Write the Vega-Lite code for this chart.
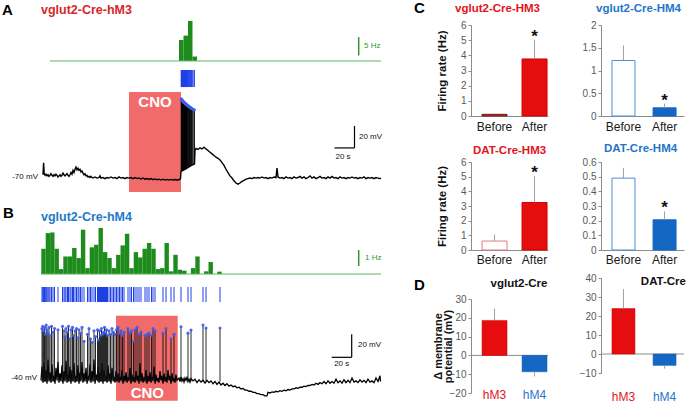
{
  "$schema": "https://vega.github.io/schema/vega-lite/v6.json",
  "padding": 0,
  "background": "white",
  "config": {
    "view": {"stroke": null},
    "font": "Liberation Sans",
    "title": {"frame": "group"},
    "axis": {"grid": false, "labelOverlap": false, "labelFontSize": 10, "labelColor": "#595959", "domainColor": "#8c8c8c", "tickColor": "#8c8c8c", "tickSize": 3, "titleFontSize": 11.5, "titleFontWeight": "bold", "titleColor": "#111111"},
    "axisY": {"labelPadding": 2, "titlePadding": 13},
    "axisX": {"ticks": false, "tickSize": 0, "labelAngle": 0, "labelBaseline": "middle", "labelFontSize": 12, "labelColor": "#1a1a1a"}
  },
  "datasets": {
    "traceA": [{"t":0,"v":-68},{"t":0.6,"v":-57},{"t":1.2,"v":-67},{"t":2,"v":-68.5},{"t":3,"v":-67.5},{"t":4,"v":-69},{"t":5,"v":-68},{"t":6,"v":-69.5},{"t":7,"v":-68.5},{"t":8,"v":-67},{"t":9,"v":-68.5},{"t":10,"v":-69.5},{"t":11,"v":-68},{"t":12,"v":-69},{"t":13,"v":-67.5},{"t":14,"v":-68.5},{"t":15,"v":-70},{"t":16,"v":-69},{"t":17,"v":-68},{"t":18,"v":-69.5},{"t":19,"v":-68.5},{"t":20,"v":-66.5},{"t":21,"v":-68},{"t":22,"v":-69},{"t":23,"v":-68},{"t":24,"v":-67},{"t":25,"v":-68.5},{"t":26,"v":-69.5},{"t":27,"v":-68},{"t":28,"v":-66},{"t":29,"v":-67.5},{"t":30,"v":-64},{"t":31,"v":-66},{"t":32,"v":-63},{"t":33,"v":-61},{"t":34,"v":-63.5},{"t":35,"v":-62},{"t":36,"v":-64},{"t":37,"v":-63},{"t":38,"v":-65.5},{"t":39,"v":-64.5},{"t":40,"v":-66.5},{"t":41,"v":-68},{"t":42,"v":-67},{"t":43,"v":-69},{"t":44,"v":-68.5},{"t":45,"v":-70},{"t":46,"v":-69.5},{"t":47,"v":-70.5},{"t":48,"v":-69.5},{"t":49,"v":-70.5},{"t":50,"v":-71},{"t":52,"v":-70},{"t":54,"v":-71},{"t":56,"v":-70.5},{"t":57,"v":-69},{"t":58,"v":-71},{"t":60,"v":-70.5},{"t":62,"v":-71.5},{"t":64,"v":-70.5},{"t":66,"v":-71},{"t":68,"v":-70},{"t":70,"v":-71},{"t":72,"v":-70.5},{"t":74,"v":-71.5},{"t":76,"v":-70},{"t":78,"v":-71},{"t":80,"v":-70.5},{"t":82,"v":-71.5},{"t":84,"v":-70.5},{"t":86,"v":-71},{"t":88,"v":-70.5},{"t":90,"v":-71.5},{"t":92,"v":-70.5},{"t":94,"v":-71.5},{"t":96,"v":-71},{"t":98,"v":-71.8},{"t":100,"v":-71},{"t":102,"v":-72},{"t":104,"v":-71.5},{"t":106,"v":-72.3},{"t":108,"v":-71.5},{"t":110,"v":-72.5},{"t":112,"v":-71.8},{"t":114,"v":-72.5},{"t":116,"v":-72},{"t":118,"v":-72.8},{"t":120,"v":-72},{"t":122,"v":-72.8},{"t":124,"v":-72.2},{"t":126,"v":-72.8},{"t":128,"v":-72.2},{"t":130,"v":-72.8},{"t":132,"v":-72.3},{"t":134,"v":-72.8},{"t":136,"v":-72.5},{"t":137.5,"v":-71.5},{"t":138,"v":-65},{"t":140,"v":-64},{"t":142,"v":-63},{"t":144,"v":-62},{"t":146,"v":-60.8},{"t":148,"v":-59.8},{"t":150,"v":-58.8},{"t":151.5,"v":-58.2},{"t":152,"v":-46},{"t":153,"v":-44},{"t":155,"v":-45},{"t":157,"v":-43.5},{"t":159,"v":-44.5},{"t":161,"v":-43},{"t":163,"v":-44.5},{"t":165,"v":-46},{"t":167,"v":-47.5},{"t":169,"v":-49},{"t":171,"v":-50.5},{"t":173,"v":-52},{"t":175,"v":-53},{"t":177,"v":-54.5},{"t":179,"v":-57},{"t":181,"v":-59.5},{"t":183,"v":-63},{"t":185,"v":-66},{"t":187,"v":-69},{"t":189,"v":-71},{"t":191,"v":-73.5},{"t":193,"v":-75.5},{"t":195,"v":-76.5},{"t":197,"v":-75.5},{"t":199,"v":-74},{"t":201,"v":-73},{"t":203,"v":-72},{"t":205,"v":-71.5},{"t":207,"v":-71},{"t":209,"v":-71.5},{"t":211,"v":-70.5},{"t":213,"v":-71},{"t":215,"v":-70.5},{"t":217,"v":-71},{"t":219,"v":-70},{"t":221,"v":-71},{"t":223,"v":-70.5},{"t":225,"v":-71.5},{"t":227,"v":-70.5},{"t":229,"v":-71},{"t":231,"v":-70},{"t":233,"v":-70.5},{"t":234,"v":-62},{"t":235,"v":-70},{"t":237,"v":-71},{"t":239,"v":-70.5},{"t":241,"v":-71.5},{"t":243,"v":-70},{"t":245,"v":-71},{"t":247,"v":-70.5},{"t":249,"v":-71.5},{"t":251,"v":-70},{"t":253,"v":-71},{"t":255,"v":-70.5},{"t":257,"v":-69.5},{"t":259,"v":-71},{"t":261,"v":-70},{"t":263,"v":-71.5},{"t":265,"v":-70.5},{"t":267,"v":-69},{"t":269,"v":-71},{"t":271,"v":-70},{"t":273,"v":-71.5},{"t":275,"v":-70.5},{"t":277,"v":-69.5},{"t":279,"v":-71},{"t":281,"v":-70.5},{"t":283,"v":-71.5},{"t":285,"v":-70},{"t":287,"v":-71},{"t":289,"v":-69.5},{"t":291,"v":-71},{"t":293,"v":-70.5},{"t":295,"v":-71.5},{"t":297,"v":-70},{"t":299,"v":-71},{"t":301,"v":-70.5},{"t":303,"v":-71.5},{"t":305,"v":-70.5},{"t":307,"v":-71},{"t":309,"v":-70},{"t":311,"v":-71},{"t":313,"v":-70.5},{"t":315,"v":-71.5},{"t":317,"v":-70.5},{"t":319,"v":-71},{"t":321,"v":-70},{"t":323,"v":-71.5},{"t":325,"v":-70.5},{"t":327,"v":-71},{"t":329,"v":-70.5},{"t":331,"v":-71.5},{"t":333,"v":-70.5},{"t":335,"v":-71},{"t":337,"v":-71.5},{"t":338,"v":-71}],
    "spikesA": [{"t":138.2,"peak":1,"base":-65},{"t":138.6,"peak":0.4,"base":-64.8},{"t":139.0,"peak":0,"base":-64.6},{"t":139.4,"peak":-0.6,"base":-64.4},{"t":139.8,"peak":-1,"base":-64.2},{"t":140.2,"peak":-1.5,"base":-64},{"t":140.6,"peak":-1.8,"base":-63.8},{"t":141.0,"peak":-2.3,"base":-63.6},{"t":141.5,"peak":-2.6,"base":-63.3},{"t":142.0,"peak":-3,"base":-63},{"t":142.5,"peak":-3.5,"base":-62.8},{"t":143.0,"peak":-3.8,"base":-62.5},{"t":143.5,"peak":-4.3,"base":-62.2},{"t":144.0,"peak":-4.6,"base":-62},{"t":144.6,"peak":-5.1,"base":-61.6},{"t":145.2,"peak":-5.4,"base":-61.3},{"t":145.8,"peak":-5.9,"base":-61},{"t":146.4,"peak":-6.2,"base":-60.6},{"t":147.0,"peak":-6.7,"base":-60.3},{"t":147.7,"peak":-7,"base":-60},{"t":148.4,"peak":-7.5,"base":-59.6},{"t":149.2,"peak":-8,"base":-59.2},{"t":150.1,"peak":-8.4,"base":-58.8},{"t":151.4,"peak":-9,"base":-58.3}],
    "histA": [{"start":136,"end":140.5,"hz":5.7},{"start":140.5,"end":145,"hz":6.9},{"start":145,"end":149.5,"hz":10.9},{"start":149.5,"end":154,"hz":1.2}],
    "traceB": [{"t":0,"v":-42},{"t":1,"v":-30},{"t":2,"v":-44},{"t":3,"v":-27},{"t":4,"v":-43},{"t":5,"v":-33},{"t":6,"v":-45},{"t":7,"v":-24},{"t":8,"v":-42},{"t":9,"v":-35},{"t":10,"v":-44},{"t":11,"v":-28},{"t":12,"v":-43},{"t":13,"v":-38},{"t":14,"v":-45},{"t":15,"v":-31},{"t":16,"v":-42},{"t":17,"v":-26},{"t":18,"v":-44},{"t":19,"v":-36},{"t":20,"v":-43},{"t":21,"v":-29},{"t":22,"v":-45},{"t":23,"v":-34},{"t":24,"v":-42},{"t":25,"v":-25},{"t":26,"v":-44},{"t":27,"v":-37},{"t":28,"v":-43},{"t":29,"v":-30},{"t":30,"v":-45},{"t":31,"v":-33},{"t":32,"v":-42},{"t":33,"v":-27},{"t":34,"v":-44},{"t":35,"v":-38},{"t":36,"v":-43},{"t":37,"v":-29},{"t":38,"v":-45},{"t":39,"v":-35},{"t":40,"v":-42},{"t":41,"v":-26},{"t":42,"v":-44},{"t":43,"v":-36},{"t":44,"v":-43},{"t":45,"v":-31},{"t":46,"v":-45},{"t":47,"v":-38},{"t":48,"v":-42},{"t":49,"v":-28},{"t":50,"v":-44},{"t":51,"v":-34},{"t":52,"v":-43},{"t":53,"v":-24},{"t":54,"v":-45},{"t":55,"v":-37},{"t":56,"v":-42},{"t":57,"v":-30},{"t":58,"v":-44},{"t":59,"v":-35},{"t":60,"v":-43},{"t":61,"v":-27},{"t":62,"v":-45},{"t":63,"v":-33},{"t":64,"v":-42},{"t":65,"v":-38},{"t":66,"v":-44},{"t":67,"v":-29},{"t":68,"v":-43},{"t":69,"v":-36},{"t":70,"v":-45},{"t":71,"v":-31},{"t":72,"v":-42},{"t":73,"v":-39},{"t":74,"v":-44},{"t":75,"v":-34},{"t":76,"v":-43},{"t":77,"v":-36},{"t":78,"v":-44},{"t":79,"v":-39},{"t":80,"v":-42},{"t":81,"v":-33},{"t":82,"v":-45},{"t":83,"v":-38},{"t":84,"v":-43},{"t":85,"v":-35},{"t":86,"v":-44},{"t":87,"v":-40},{"t":88,"v":-42},{"t":89,"v":-31},{"t":90,"v":-45},{"t":91,"v":-37},{"t":92,"v":-43},{"t":93,"v":-39},{"t":94,"v":-44},{"t":95,"v":-34},{"t":96,"v":-42},{"t":97,"v":-38},{"t":98,"v":-45},{"t":99,"v":-27},{"t":100,"v":-43},{"t":101,"v":-36},{"t":102,"v":-44},{"t":103,"v":-40},{"t":104,"v":-42},{"t":105,"v":-33},{"t":106,"v":-45},{"t":107,"v":-38},{"t":108,"v":-43},{"t":109,"v":-35},{"t":110,"v":-44},{"t":111,"v":-39},{"t":112,"v":-42},{"t":113,"v":-30},{"t":114,"v":-45},{"t":115,"v":-37},{"t":116,"v":-43},{"t":117,"v":-40},{"t":118,"v":-44},{"t":119,"v":-34},{"t":120,"v":-42},{"t":121,"v":-38},{"t":122,"v":-45},{"t":123,"v":-36},{"t":124,"v":-43},{"t":125,"v":-39},{"t":126,"v":-44},{"t":127,"v":-33},{"t":128,"v":-42},{"t":129,"v":-38},{"t":130,"v":-45},{"t":131,"v":-36},{"t":132,"v":-43},{"t":133,"v":-40},{"t":134,"v":-44},{"t":135,"v":-37},{"t":136,"v":-42},{"t":138,"v":-40},{"t":139,"v":-43},{"t":140,"v":-39},{"t":141,"v":-42.5},{"t":142,"v":-40.5},{"t":143,"v":-43.5},{"t":144,"v":-40},{"t":145,"v":-42},{"t":146,"v":-39.5},{"t":147,"v":-43},{"t":148,"v":-41},{"t":149,"v":-43.5},{"t":150,"v":-40.5},{"t":152,"v":-42.5},{"t":154,"v":-41},{"t":156,"v":-44},{"t":158,"v":-41.5},{"t":160,"v":-43.5},{"t":162,"v":-42},{"t":164,"v":-44.5},{"t":166,"v":-42},{"t":168,"v":-44},{"t":170,"v":-42.5},{"t":172,"v":-45},{"t":174,"v":-43},{"t":176,"v":-45.5},{"t":178,"v":-43.5},{"t":180,"v":-46},{"t":182,"v":-44.5},{"t":184,"v":-46.5},{"t":186,"v":-45},{"t":188,"v":-47},{"t":190,"v":-46},{"t":192,"v":-47.5},{"t":194,"v":-47},{"t":196,"v":-48.5},{"t":198,"v":-48},{"t":200,"v":-49.5},{"t":202,"v":-49},{"t":204,"v":-50.5},{"t":206,"v":-50.5},{"t":208,"v":-51.5},{"t":210,"v":-51.5},{"t":212,"v":-52.5},{"t":214,"v":-52.5},{"t":216,"v":-53.5},{"t":218,"v":-53.5},{"t":220,"v":-54.5},{"t":222,"v":-54.5},{"t":224,"v":-55.5},{"t":226,"v":-55.5},{"t":227,"v":-52.5},{"t":229,"v":-53},{"t":231,"v":-52},{"t":233,"v":-52.5},{"t":235,"v":-51.5},{"t":237,"v":-52},{"t":239,"v":-51},{"t":241,"v":-51.5},{"t":243,"v":-50.5},{"t":245,"v":-51},{"t":247,"v":-50},{"t":249,"v":-50.5},{"t":251,"v":-49.5},{"t":253,"v":-49.5},{"t":255,"v":-48.5},{"t":257,"v":-49},{"t":259,"v":-48},{"t":261,"v":-48},{"t":263,"v":-47},{"t":265,"v":-47.5},{"t":267,"v":-46.5},{"t":269,"v":-46.5},{"t":271,"v":-45.5},{"t":273,"v":-46},{"t":275,"v":-44.5},{"t":277,"v":-45.5},{"t":279,"v":-44},{"t":281,"v":-45},{"t":283,"v":-43},{"t":285,"v":-45},{"t":287,"v":-42.5},{"t":289,"v":-44.5},{"t":291,"v":-43},{"t":293,"v":-44.5},{"t":295,"v":-41},{"t":297,"v":-44},{"t":299,"v":-42.5},{"t":301,"v":-44.5},{"t":303,"v":-41.5},{"t":305,"v":-44},{"t":307,"v":-42},{"t":309,"v":-44},{"t":311,"v":-40},{"t":313,"v":-43.5},{"t":315,"v":-42.5},{"t":317,"v":-44},{"t":319,"v":-41.5},{"t":321,"v":-43.5},{"t":323,"v":-42},{"t":325,"v":-44},{"t":327,"v":-41},{"t":329,"v":-43.5},{"t":331,"v":-42.5},{"t":333,"v":-44},{"t":335,"v":-40},{"t":337,"v":-43},{"t":339,"v":-38},{"t":339.5,"v":-43}],
    "spikesB": [{"t":1,"peak":3},{"t":1.8,"peak":5},{"t":2.6,"peak":1},{"t":3.5,"peak":4},{"t":4.3,"peak":-2},{"t":5.2,"peak":6},{"t":6,"peak":2},{"t":7,"peak":-1},{"t":8,"peak":4},{"t":9,"peak":-3},{"t":10.5,"peak":5},{"t":12,"peak":0},{"t":13.5,"peak":3},{"t":17,"peak":2},{"t":21.5,"peak":5},{"t":23,"peak":1},{"t":24,"peak":-4},{"t":25,"peak":3},{"t":26.5,"peak":0},{"t":27.5,"peak":5},{"t":29,"peak":-6},{"t":30,"peak":2},{"t":31.5,"peak":4},{"t":32.5,"peak":-3},{"t":34,"peak":1},{"t":35.5,"peak":3},{"t":37,"peak":-5},{"t":38,"peak":2},{"t":39.5,"peak":-1},{"t":41,"peak":4},{"t":43,"peak":-8},{"t":46.5,"peak":-2},{"t":48,"peak":3},{"t":49.5,"peak":-6},{"t":51,"peak":-9},{"t":53,"peak":1},{"t":54.5,"peak":-4},{"t":56.5,"peak":2},{"t":57.5,"peak":-7},{"t":58.5,"peak":1},{"t":59.5,"peak":-3},{"t":60.5,"peak":3},{"t":61.5,"peak":-2},{"t":62.5,"peak":0},{"t":63.5,"peak":4},{"t":64.5,"peak":-1},{"t":65.5,"peak":2},{"t":66.5,"peak":-3},{"t":68,"peak":1},{"t":69.5,"peak":-2},{"t":71,"peak":3},{"t":72.5,"peak":0},{"t":74,"peak":-2},{"t":75.5,"peak":2},{"t":77,"peak":4},{"t":78.5,"peak":-1},{"t":80,"peak":1},{"t":81.5,"peak":-3},{"t":83,"peak":0},{"t":87,"peak":3},{"t":89,"peak":-1},{"t":90.5,"peak":1},{"t":92.5,"peak":-8},{"t":94,"peak":2},{"t":96,"peak":4},{"t":98,"peak":-2},{"t":100,"peak":0},{"t":104,"peak":-3},{"t":106,"peak":-2},{"t":108,"peak":-1},{"t":110.5,"peak":-3},{"t":112,"peak":3},{"t":114,"peak":1},{"t":122,"peak":-1},{"t":125,"peak":3},{"t":130,"peak":-6},{"t":133,"peak":-2},{"t":140,"peak":4.6},{"t":147,"peak":-1},{"t":150,"peak":1.7},{"t":162,"peak":6},{"t":165,"peak":3.5},{"t":179,"peak":3.5}],
    "histB": [{"start":0.3,"end":4.7,"hz":1.58},{"start":4.7,"end":9.1,"hz":2.56},{"start":9.1,"end":13.5,"hz":2.6},{"start":13.5,"end":17.9,"hz":1.58},{"start":17.9,"end":22.3,"hz":0.31},{"start":22.3,"end":26.7,"hz":1.1},{"start":26.7,"end":31.1,"hz":1.1},{"start":31.1,"end":35.5,"hz":1.63},{"start":35.5,"end":39.9,"hz":1.0},{"start":39.9,"end":44.3,"hz":2.77},{"start":44.3,"end":48.7,"hz":0.37},{"start":48.7,"end":53.1,"hz":1.67},{"start":53.1,"end":57.5,"hz":1.83},{"start":57.5,"end":61.9,"hz":2.88},{"start":61.9,"end":66.3,"hz":1.37},{"start":66.3,"end":70.7,"hz":1.0},{"start":70.7,"end":75.1,"hz":0.37},{"start":75.1,"end":79.5,"hz":1.2},{"start":79.5,"end":83.9,"hz":1.79},{"start":83.9,"end":88.3,"hz":2.52},{"start":88.3,"end":92.7,"hz":0.37},{"start":92.7,"end":97.1,"hz":1.37},{"start":97.1,"end":101.5,"hz":1.04},{"start":101.5,"end":105.9,"hz":1.58},{"start":105.9,"end":110.3,"hz":1.94},{"start":110.3,"end":114.7,"hz":1.58},{"start":114.7,"end":119.1,"hz":0.31},{"start":119.1,"end":123.5,"hz":0.37},{"start":123.5,"end":127.9,"hz":1.94},{"start":127.9,"end":132.3,"hz":0.17},{"start":132.3,"end":136.7,"hz":1.2},{"start":136.7,"end":141.1,"hz":0.27},{"start":141.1,"end":145.5,"hz":0.21},{"start":149.9,"end":154.3,"hz":0.37},{"start":154.3,"end":158.7,"hz":1.1},{"start":163.1,"end":167.5,"hz":0.17},{"start":167.5,"end":171.9,"hz":0.75},{"start":176.3,"end":180.7,"hz":0.15}]
  },
  "hconcat": [
    {
      "vconcat": [
        {
          "width": 432, "height": 195,
          "resolve": {"scale": {"y": "independent"}},
          "layer": [
            {"data": {"values": [{"start": 86, "end": 138}]}, "mark": {"type": "rect", "color": "#f26b6b"},
             "encoding": {"x": {"field": "start", "type": "quantitative", "scale": {"domain": [-43, 389], "nice": false, "zero": false}, "axis": null}, "x2": {"field": "end"},
                          "y": {"datum": -83.6, "type": "quantitative", "scale": {"domain": [-86.4, 90.9], "nice": false, "zero": false}, "axis": null}, "y2": {"datum": 7.3}}},
            {"data": {"name": "histA"}, "mark": {"type": "rect", "color": "#1d8c1d"},
             "encoding": {"x": {"field": "start", "type": "quantitative", "scale": {"domain": [-43, 389], "nice": false, "zero": false}, "axis": null}, "x2": {"field": "end"},
                          "y": {"field": "hz", "type": "quantitative", "scale": {"domain": [-36.5, 16.6], "nice": false, "zero": false}, "axis": null}, "y2": {"datum": 0}}},
            {"data": {"values": [{}]}, "mark": {"type": "rule", "color": "#5cb85c", "strokeWidth": 1},
             "encoding": {"x": {"datum": 7, "type": "quantitative", "scale": {"domain": [-43, 389], "nice": false, "zero": false}, "axis": null}, "x2": {"datum": 338},
                          "y": {"datum": 0, "type": "quantitative", "scale": {"domain": [-36.5, 16.6], "nice": false, "zero": false}, "axis": null}}},
            {"data": {"values": [{}]}, "mark": {"type": "rule", "color": "#2e9a2e", "strokeWidth": 1.5},
             "encoding": {"x": {"datum": 315.7, "type": "quantitative", "scale": {"domain": [-43, 389], "nice": false, "zero": false}, "axis": null},
                          "y": {"datum": 1.5, "type": "quantitative", "scale": {"domain": [-36.5, 16.6], "nice": false, "zero": false}, "axis": null}, "y2": {"datum": 6.5}}},
            {"data": {"values": [{}]}, "mark": {"type": "text", "color": "#2e9a2e", "fontSize": 8, "align": "left", "baseline": "middle"},
             "encoding": {"x": {"datum": 321, "type": "quantitative", "scale": {"domain": [-43, 389], "nice": false, "zero": false}, "axis": null},
                          "y": {"datum": 4.1, "type": "quantitative", "scale": {"domain": [-36.5, 16.6], "nice": false, "zero": false}, "axis": null}, "text": {"value": "5 Hz"}}},
            {"data": {"name": "spikesA"}, "mark": {"type": "rule", "color": "#1f3fe6", "strokeWidth": 1},
             "encoding": {"x": {"field": "t", "type": "quantitative", "scale": {"domain": [-43, 389], "nice": false, "zero": false}, "axis": null},
                          "y": {"datum": 0, "type": "quantitative", "scale": {"domain": [-6.35, 5.12], "nice": false, "zero": false}, "axis": null}, "y2": {"datum": 1}}},
            {"data": {"name": "traceA"}, "mark": {"type": "line", "color": "#000000", "strokeWidth": 1.4},
             "encoding": {"x": {"field": "t", "type": "quantitative", "scale": {"domain": [-43, 389], "nice": false, "zero": false}, "axis": null},
                          "y": {"field": "v", "type": "quantitative", "scale": {"domain": [-86.4, 90.9], "nice": false, "zero": false}, "axis": null}}},
            {"data": {"name": "spikesA"}, "mark": {"type": "rule", "color": "#000000", "strokeWidth": 1},
             "encoding": {"x": {"field": "t", "type": "quantitative", "scale": {"domain": [-43, 389], "nice": false, "zero": false}, "axis": null},
                          "y": {"field": "base", "type": "quantitative", "scale": {"domain": [-86.4, 90.9], "nice": false, "zero": false}, "axis": null}, "y2": {"field": "peak"}}},
            {"data": {"name": "spikesA"}, "mark": {"type": "point", "filled": true, "color": "#3d5cf0", "size": 10, "opacity": 0.9},
             "encoding": {"x": {"field": "t", "type": "quantitative", "scale": {"domain": [-43, 389], "nice": false, "zero": false}, "axis": null},
                          "y": {"field": "peak", "type": "quantitative", "scale": {"domain": [-86.4, 90.9], "nice": false, "zero": false}, "axis": null}}},
            {"data": {"values": [{}]}, "mark": {"type": "text", "color": "white", "fontSize": 15, "fontWeight": "bold", "align": "center", "baseline": "middle"},
             "encoding": {"x": {"datum": 112, "type": "quantitative", "scale": {"domain": [-43, 389], "nice": false, "zero": false}, "axis": null},
                          "y": {"datum": -1.8, "type": "quantitative", "scale": {"domain": [-86.4, 90.9], "nice": false, "zero": false}, "axis": null}, "text": {"value": "CNO"}}},
            {"data": {"values": [{}]}, "mark": {"type": "rule", "color": "#000000", "strokeWidth": 1.2},
             "encoding": {"x": {"datum": 311.5, "type": "quantitative", "scale": {"domain": [-43, 389], "nice": false, "zero": false}, "axis": null},
                          "y": {"datum": -43.6, "type": "quantitative", "scale": {"domain": [-86.4, 90.9], "nice": false, "zero": false}, "axis": null}, "y2": {"datum": -23.6}}},
            {"data": {"values": [{}]}, "mark": {"type": "rule", "color": "#000000", "strokeWidth": 1.2},
             "encoding": {"x": {"datum": 291.5, "type": "quantitative", "scale": {"domain": [-43, 389], "nice": false, "zero": false}, "axis": null}, "x2": {"datum": 311.5},
                          "y": {"datum": -43.6, "type": "quantitative", "scale": {"domain": [-86.4, 90.9], "nice": false, "zero": false}, "axis": null}}},
            {"data": {"values": [{}]}, "mark": {"type": "text", "color": "#111111", "fontSize": 8, "align": "left", "baseline": "middle"},
             "encoding": {"x": {"datum": 316, "type": "quantitative", "scale": {"domain": [-43, 389], "nice": false, "zero": false}, "axis": null},
                          "y": {"datum": -33.6, "type": "quantitative", "scale": {"domain": [-86.4, 90.9], "nice": false, "zero": false}, "axis": null}, "text": {"value": "20 mV"}}},
            {"data": {"values": [{}]}, "mark": {"type": "text", "color": "#111111", "fontSize": 8, "align": "center", "baseline": "middle"},
             "encoding": {"x": {"datum": 300, "type": "quantitative", "scale": {"domain": [-43, 389], "nice": false, "zero": false}, "axis": null},
                          "y": {"datum": -51.8, "type": "quantitative", "scale": {"domain": [-86.4, 90.9], "nice": false, "zero": false}, "axis": null}, "text": {"value": "20 s"}}},
            {"data": {"values": [{}]}, "mark": {"type": "text", "color": "#111111", "fontSize": 8, "align": "right", "baseline": "middle"},
             "encoding": {"x": {"datum": -5, "type": "quantitative", "scale": {"domain": [-43, 389], "nice": false, "zero": false}, "axis": null},
                          "y": {"datum": -70, "type": "quantitative", "scale": {"domain": [-86.4, 90.9], "nice": false, "zero": false}, "axis": null}, "text": {"value": "-70 mV"}}},
            {"data": {"values": [{}]}, "mark": {"type": "text", "color": "#000000", "fontSize": 15, "fontWeight": "bold", "align": "left", "baseline": "middle"},
             "encoding": {"x": {"datum": -41, "type": "quantitative", "scale": {"domain": [-43, 389], "nice": false, "zero": false}, "axis": null},
                          "y": {"datum": 81.8, "type": "quantitative", "scale": {"domain": [-86.4, 90.9], "nice": false, "zero": false}, "axis": null}, "text": {"value": "A"}}},
            {"data": {"values": [{}]}, "mark": {"type": "text", "color": "#d6262b", "fontSize": 12.5, "fontWeight": "bold", "align": "left", "baseline": "middle"},
             "encoding": {"x": {"datum": -2, "type": "quantitative", "scale": {"domain": [-43, 389], "nice": false, "zero": false}, "axis": null},
                          "y": {"datum": 81.8, "type": "quantitative", "scale": {"domain": [-86.4, 90.9], "nice": false, "zero": false}, "axis": null}, "text": {"value": "vglut2-Cre-hM3"}}},
            {"data": {"values": [{}]}, "mark": {"type": "text", "color": "#000000", "fontSize": 15, "fontWeight": "bold", "align": "left", "baseline": "middle"},
             "encoding": {"x": {"datum": 371, "type": "quantitative", "scale": {"domain": [-43, 389], "nice": false, "zero": false}, "axis": null},
                          "y": {"datum": 83.6, "type": "quantitative", "scale": {"domain": [-86.4, 90.9], "nice": false, "zero": false}, "axis": null}, "text": {"value": "C"}}}
          ]
        },
        {
          "width": 432, "height": 208,
          "resolve": {"scale": {"y": "independent"}},
          "layer": [
            {"data": {"values": [{"start": 75, "end": 136.7}]}, "mark": {"type": "rect", "color": "#f26b6b"},
             "encoding": {"x": {"field": "start", "type": "quantitative", "scale": {"domain": [-41, 391], "nice": false, "zero": false}, "axis": null}, "x2": {"field": "end"},
                          "y": {"datum": -59.7, "type": "quantitative", "scale": {"domain": [-61.7, 119.1], "nice": false, "zero": false}, "axis": null}, "y2": {"datum": 14.2}}},
            {"data": {"name": "histB"}, "mark": {"type": "rect", "color": "#1d8c1d"},
             "encoding": {"x": {"field": "start", "type": "quantitative", "scale": {"domain": [-41, 391], "nice": false, "zero": false}, "axis": null}, "x2": {"field": "end"},
                          "y": {"field": "hz", "type": "quantitative", "scale": {"domain": [-8.06, 4.94], "nice": false, "zero": false}, "axis": null}, "y2": {"datum": 0}}},
            {"data": {"values": [{}]}, "mark": {"type": "rule", "color": "#5cb85c", "strokeWidth": 1},
             "encoding": {"x": {"datum": 0, "type": "quantitative", "scale": {"domain": [-41, 391], "nice": false, "zero": false}, "axis": null}, "x2": {"datum": 340},
                          "y": {"datum": 0, "type": "quantitative", "scale": {"domain": [-8.06, 4.94], "nice": false, "zero": false}, "axis": null}}},
            {"data": {"values": [{}]}, "mark": {"type": "rule", "color": "#2e9a2e", "strokeWidth": 1.5},
             "encoding": {"x": {"datum": 317.7, "type": "quantitative", "scale": {"domain": [-41, 391], "nice": false, "zero": false}, "axis": null},
                          "y": {"datum": 0.5, "type": "quantitative", "scale": {"domain": [-8.06, 4.94], "nice": false, "zero": false}, "axis": null}, "y2": {"datum": 1.5}}},
            {"data": {"values": [{}]}, "mark": {"type": "text", "color": "#2e9a2e", "fontSize": 8, "align": "left", "baseline": "middle"},
             "encoding": {"x": {"datum": 324, "type": "quantitative", "scale": {"domain": [-41, 391], "nice": false, "zero": false}, "axis": null},
                          "y": {"datum": 1.0, "type": "quantitative", "scale": {"domain": [-8.06, 4.94], "nice": false, "zero": false}, "axis": null}, "text": {"value": "1 Hz"}}},
            {"data": {"name": "spikesB"}, "mark": {"type": "rule", "color": "#1f3fe6", "strokeWidth": 1},
             "encoding": {"x": {"field": "t", "type": "quantitative", "scale": {"domain": [-41, 391], "nice": false, "zero": false}, "axis": null},
                          "y": {"datum": 0, "type": "quantitative", "scale": {"domain": [-6.73, 7.13], "nice": false, "zero": false}, "axis": null}, "y2": {"datum": 1}}},
            {"data": {"name": "traceB"}, "mark": {"type": "line", "color": "#000000", "strokeWidth": 1.3},
             "encoding": {"x": {"field": "t", "type": "quantitative", "scale": {"domain": [-41, 391], "nice": false, "zero": false}, "axis": null},
                          "y": {"field": "v", "type": "quantitative", "scale": {"domain": [-61.7, 119.1], "nice": false, "zero": false}, "axis": null}}},
            {"data": {"name": "spikesB"}, "mark": {"type": "rule", "color": "#111111", "strokeWidth": 0.9},
             "encoding": {"x": {"field": "t", "type": "quantitative", "scale": {"domain": [-41, 391], "nice": false, "zero": false}, "axis": null},
                          "y": {"field": "peak", "type": "quantitative", "scale": {"domain": [-61.7, 119.1], "nice": false, "zero": false}, "axis": null}, "y2": {"datum": -43}}},
            {"data": {"name": "spikesB"}, "mark": {"type": "point", "filled": true, "color": "#3d5cf0", "size": 10, "opacity": 0.9},
             "encoding": {"x": {"field": "t", "type": "quantitative", "scale": {"domain": [-41, 391], "nice": false, "zero": false}, "axis": null},
                          "y": {"field": "peak", "type": "quantitative", "scale": {"domain": [-61.7, 119.1], "nice": false, "zero": false}, "axis": null}}},
            {"data": {"values": [{}]}, "mark": {"type": "text", "color": "white", "fontSize": 15, "fontWeight": "bold", "align": "center", "baseline": "middle"},
             "encoding": {"x": {"datum": 106.3, "type": "quantitative", "scale": {"domain": [-41, 391], "nice": false, "zero": false}, "axis": null},
                          "y": {"datum": -53.3, "type": "quantitative", "scale": {"domain": [-61.7, 119.1], "nice": false, "zero": false}, "axis": null}, "text": {"value": "CNO"}}},
            {"data": {"values": [{}]}, "mark": {"type": "rule", "color": "#000000", "strokeWidth": 1.2},
             "encoding": {"x": {"datum": 310.7, "type": "quantitative", "scale": {"domain": [-41, 391], "nice": false, "zero": false}, "axis": null},
                          "y": {"datum": -22, "type": "quantitative", "scale": {"domain": [-61.7, 119.1], "nice": false, "zero": false}, "axis": null}, "y2": {"datum": -2}}},
            {"data": {"values": [{}]}, "mark": {"type": "rule", "color": "#000000", "strokeWidth": 1.2},
             "encoding": {"x": {"datum": 290.7, "type": "quantitative", "scale": {"domain": [-41, 391], "nice": false, "zero": false}, "axis": null}, "x2": {"datum": 310.7},
                          "y": {"datum": -22, "type": "quantitative", "scale": {"domain": [-61.7, 119.1], "nice": false, "zero": false}, "axis": null}}},
            {"data": {"values": [{}]}, "mark": {"type": "text", "color": "#111111", "fontSize": 8, "align": "left", "baseline": "middle"},
             "encoding": {"x": {"datum": 317, "type": "quantitative", "scale": {"domain": [-41, 391], "nice": false, "zero": false}, "axis": null},
                          "y": {"datum": -11.3, "type": "quantitative", "scale": {"domain": [-61.7, 119.1], "nice": false, "zero": false}, "axis": null}, "text": {"value": "20 mV"}}},
            {"data": {"values": [{}]}, "mark": {"type": "text", "color": "#111111", "fontSize": 8, "align": "center", "baseline": "middle"},
             "encoding": {"x": {"datum": 300.7, "type": "quantitative", "scale": {"domain": [-41, 391], "nice": false, "zero": false}, "axis": null},
                          "y": {"datum": -28.1, "type": "quantitative", "scale": {"domain": [-61.7, 119.1], "nice": false, "zero": false}, "axis": null}, "text": {"value": "20 s"}}},
            {"data": {"values": [{}]}, "mark": {"type": "text", "color": "#111111", "fontSize": 8, "align": "right", "baseline": "middle"},
             "encoding": {"x": {"datum": -4, "type": "quantitative", "scale": {"domain": [-41, 391], "nice": false, "zero": false}, "axis": null},
                          "y": {"datum": -40, "type": "quantitative", "scale": {"domain": [-61.7, 119.1], "nice": false, "zero": false}, "axis": null}, "text": {"value": "-40 mV"}}},
            {"data": {"values": [{}]}, "mark": {"type": "text", "color": "#000000", "fontSize": 15, "fontWeight": "bold", "align": "left", "baseline": "middle"},
             "encoding": {"x": {"datum": -38, "type": "quantitative", "scale": {"domain": [-41, 391], "nice": false, "zero": false}, "axis": null},
                          "y": {"datum": 103.5, "type": "quantitative", "scale": {"domain": [-61.7, 119.1], "nice": false, "zero": false}, "axis": null}, "text": {"value": "B"}}},
            {"data": {"values": [{}]}, "mark": {"type": "text", "color": "#1f7ac9", "fontSize": 12.5, "fontWeight": "bold", "align": "left", "baseline": "middle"},
             "encoding": {"x": {"datum": 0, "type": "quantitative", "scale": {"domain": [-41, 391], "nice": false, "zero": false}, "axis": null},
                          "y": {"datum": 99.6, "type": "quantitative", "scale": {"domain": [-61.7, 119.1], "nice": false, "zero": false}, "axis": null}, "text": {"value": "vglut2-Cre-hM4"}}},
            {"data": {"values": [{}]}, "mark": {"type": "text", "color": "#000000", "fontSize": 15, "fontWeight": "bold", "align": "left", "baseline": "middle"},
             "encoding": {"x": {"datum": 373, "type": "quantitative", "scale": {"domain": [-41, 391], "nice": false, "zero": false}, "axis": null},
                          "y": {"datum": 41.3, "type": "quantitative", "scale": {"domain": [-61.7, 119.1], "nice": false, "zero": false}, "axis": null}, "text": {"value": "D"}}}
          ]
        }
      ],
      "spacing": 0,
      "bounds": "flush"
    },
    {
      "vconcat": [
        {"width": 10, "height": 25, "data": {"values": [{}]}, "mark": {"type": "point", "opacity": 0}, "encoding": {}},
        {
          "width": 77, "height": 91,
          "title": {"text": "vglut2-Cre-HM3", "color": "#e3131b", "fontSize": 11.5, "fontWeight": "bold", "offset": 6, "dx": -12},
          "data": {"values": [{"cond": "Before", "rate": 0.11, "upper": 0.11, "sig": ""}, {"cond": "After", "rate": 3.76, "upper": 5.04, "sig": "*"}]},
          "layer": [
            {"mark": {"type": "bar", "strokeWidth": 1},
             "encoding": {"x": {"field": "cond", "type": "nominal", "sort": ["Before", "After"], "scale": {"paddingInner": 0.375, "paddingOuter": 0.15, "align": 0.92}, "axis": {"title": null, "labelPadding": 10}},
                          "y": {"field": "rate", "type": "quantitative", "scale": {"domain": [0, 6], "nice": false}, "axis": {"title": "Firing rate (Hz)", "values": [0, 1, 2, 3, 4, 5, 6], "tickCount": 12, "format": "d"}},
                          "fill": {"condition": {"test": "datum.cond === 'After'", "value": "#e50d0d"}, "value": "#c93030"},
                          "stroke": {"condition": {"test": "datum.cond === 'After'", "value": "#cc0000"}, "value": "#6b1a1a"}}},
            {"mark": {"type": "rule", "color": "#a0a0a0", "strokeWidth": 1},
             "encoding": {"x": {"field": "cond", "type": "nominal", "sort": ["Before", "After"]}, "y": {"field": "rate", "type": "quantitative"}, "y2": {"field": "upper"}}},
            {"mark": {"type": "text", "fontSize": 17, "fontWeight": "bold", "baseline": "alphabetic", "dy": 2, "color": "#111111"},
             "encoding": {"x": {"field": "cond", "type": "nominal", "sort": ["Before", "After"]}, "y": {"field": "upper", "type": "quantitative"}, "text": {"field": "sig"}}}
          ]
        },
        {"width": 10, "height": 46, "data": {"values": [{}]}, "mark": {"type": "point", "opacity": 0}, "encoding": {}},
        {
          "width": 77, "height": 88,
          "title": {"text": "DAT-Cre-HM3", "color": "#e3131b", "fontSize": 11.5, "fontWeight": "bold", "offset": 1, "dx": 0},
          "data": {"values": [{"cond": "Before", "rate": 0.61, "upper": 1.06, "sig": ""}, {"cond": "After", "rate": 3.24, "upper": 5.05, "sig": "*"}]},
          "layer": [
            {"mark": {"type": "bar", "strokeWidth": 1},
             "encoding": {"x": {"field": "cond", "type": "nominal", "sort": ["Before", "After"], "scale": {"paddingInner": 0.375, "paddingOuter": 0.15, "align": 0.92}, "axis": {"title": null, "labelPadding": 9}},
                          "y": {"field": "rate", "type": "quantitative", "scale": {"domain": [0, 6], "nice": false}, "axis": {"title": "Firing rate (Hz)", "values": [0, 1, 2, 3, 4, 5, 6], "tickCount": 12, "format": "d"}},
                          "fill": {"condition": {"test": "datum.cond === 'After'", "value": "#e50d0d"}, "value": "#ffffff"},
                          "stroke": {"condition": {"test": "datum.cond === 'After'", "value": "#cc0000"}, "value": "#e07a7a"}}},
            {"mark": {"type": "rule", "color": "#a0a0a0", "strokeWidth": 1},
             "encoding": {"x": {"field": "cond", "type": "nominal", "sort": ["Before", "After"]}, "y": {"field": "rate", "type": "quantitative"}, "y2": {"field": "upper"}}},
            {"mark": {"type": "text", "fontSize": 17, "fontWeight": "bold", "baseline": "alphabetic", "dy": 2, "color": "#111111"},
             "encoding": {"x": {"field": "cond", "type": "nominal", "sort": ["Before", "After"]}, "y": {"field": "upper", "type": "quantitative"}, "text": {"field": "sig"}}}
          ]
        },
        {"width": 10, "height": 49, "data": {"values": [{}]}, "mark": {"type": "point", "opacity": 0}, "encoding": {}},
        {
          "width": 77, "height": 94,
          "title": {"text": "vglut2-Cre", "color": "#111111", "fontSize": 11.5, "fontWeight": "bold", "offset": 5, "dx": 9.5},
          "layer": [
            {"data": {"values": [{}]}, "mark": {"type": "rule", "color": "#8c8c8c", "strokeWidth": 1},
             "encoding": {"y": {"datum": 0, "type": "quantitative"}}},
            {"data": {"values": [{"grp": "hM3", "dv": 18.6, "lim": 24.8}, {"grp": "hM4", "dv": -8.7, "lim": -11.2}]},
             "mark": {"type": "bar", "strokeWidth": 0.5},
             "encoding": {"x": {"field": "grp", "type": "nominal", "sort": ["hM3", "hM4"], "scale": {"paddingInner": 0.375, "paddingOuter": 0.15, "align": 0.92},
                                "axis": {"title": null, "domain": false, "labelPadding": 1, "labelColor": {"condition": {"test": "datum.value === 'hM3'", "value": "#e3131b"}, "value": "#1f76c8"}}},
                          "y": {"field": "dv", "type": "quantitative", "scale": {"domain": [-20, 30], "nice": false}, "axis": {"title": ["Δ membrane", "potential (mV)"], "titleFontSize": 11, "titleLineHeight": 10, "titlePadding": -4, "values": [-20, -10, 0, 10, 20, 30], "tickCount": 12, "format": "d"}},
                          "fill": {"condition": {"test": "datum.grp === 'hM3'", "value": "#e50d0d"}, "value": "#1467c2"},
                          "stroke": {"condition": {"test": "datum.grp === 'hM3'", "value": "#cc0000"}, "value": "#1060b5"}}},
            {"data": {"values": [{"grp": "hM3", "dv": 18.6, "lim": 24.8}, {"grp": "hM4", "dv": -8.7, "lim": -11.2}]},
             "mark": {"type": "rule", "color": "#a0a0a0", "strokeWidth": 1},
             "encoding": {"x": {"field": "grp", "type": "nominal", "sort": ["hM3", "hM4"]}, "y": {"field": "dv", "type": "quantitative"}, "y2": {"field": "lim"}}}
          ]
        }
      ],
      "spacing": 0,
      "bounds": "flush"
    },
    {"width": 30, "height": 10, "data": {"values": [{}]}, "mark": {"type": "point", "opacity": 0}, "encoding": {}},
    {
      "vconcat": [
        {"width": 10, "height": 25, "data": {"values": [{}]}, "mark": {"type": "point", "opacity": 0}, "encoding": {}},
        {
          "width": 83, "height": 91,
          "title": {"text": "vglut2-Cre-HM4", "color": "#1f76c8", "fontSize": 11.5, "fontWeight": "bold", "offset": 6, "dx": -4},
          "data": {"values": [{"cond": "Before", "rate": 1.22, "upper": 1.55, "sig": ""}, {"cond": "After", "rate": 0.18, "upper": 0.27, "sig": "*"}]},
          "layer": [
            {"mark": {"type": "bar", "strokeWidth": 1},
             "encoding": {"x": {"field": "cond", "type": "nominal", "sort": ["Before", "After"], "scale": {"paddingInner": 0.44, "paddingOuter": 0.23, "align": 0.58}, "axis": {"title": null, "labelPadding": 10}},
                          "y": {"field": "rate", "type": "quantitative", "scale": {"domain": [0, 2], "nice": false}, "axis": {"title": null, "values": [0, 0.5, 1, 1.5, 2], "tickCount": 12, "format": ".1~f"}},
                          "fill": {"condition": {"test": "datum.cond === 'After'", "value": "#1467c2"}, "value": "#ffffff"},
                          "stroke": {"condition": {"test": "datum.cond === 'After'", "value": "#1467c2"}, "value": "#4a8fd6"}}},
            {"mark": {"type": "rule", "color": "#a0a0a0", "strokeWidth": 1},
             "encoding": {"x": {"field": "cond", "type": "nominal", "sort": ["Before", "After"]}, "y": {"field": "rate", "type": "quantitative"}, "y2": {"field": "upper"}}},
            {"mark": {"type": "text", "fontSize": 17, "fontWeight": "bold", "baseline": "alphabetic", "dy": 2, "color": "#111111"},
             "encoding": {"x": {"field": "cond", "type": "nominal", "sort": ["Before", "After"]}, "y": {"field": "upper", "type": "quantitative"}, "text": {"field": "sig"}}}
          ]
        },
        {"width": 10, "height": 46, "data": {"values": [{}]}, "mark": {"type": "point", "opacity": 0}, "encoding": {}},
        {
          "width": 83, "height": 88,
          "title": {"text": "DAT-Cre-HM4", "color": "#1f76c8", "fontSize": 11.5, "fontWeight": "bold", "offset": 1, "dx": -2},
          "data": {"values": [{"cond": "Before", "rate": 0.49, "upper": 0.56, "sig": ""}, {"cond": "After", "rate": 0.206, "upper": 0.263, "sig": "*"}]},
          "layer": [
            {"mark": {"type": "bar", "strokeWidth": 1},
             "encoding": {"x": {"field": "cond", "type": "nominal", "sort": ["Before", "After"], "scale": {"paddingInner": 0.44, "paddingOuter": 0.23, "align": 0.58}, "axis": {"title": null, "labelPadding": 9}},
                          "y": {"field": "rate", "type": "quantitative", "scale": {"domain": [0, 0.6], "nice": false}, "axis": {"title": null, "values": [0, 0.1, 0.2, 0.3, 0.4, 0.5, 0.6], "tickCount": 12, "format": ".1~f"}},
                          "fill": {"condition": {"test": "datum.cond === 'After'", "value": "#1467c2"}, "value": "#ffffff"},
                          "stroke": {"condition": {"test": "datum.cond === 'After'", "value": "#1467c2"}, "value": "#4a8fd6"}}},
            {"mark": {"type": "rule", "color": "#a0a0a0", "strokeWidth": 1},
             "encoding": {"x": {"field": "cond", "type": "nominal", "sort": ["Before", "After"]}, "y": {"field": "rate", "type": "quantitative"}, "y2": {"field": "upper"}}},
            {"mark": {"type": "text", "fontSize": 17, "fontWeight": "bold", "baseline": "alphabetic", "dy": 2, "color": "#111111"},
             "encoding": {"x": {"field": "cond", "type": "nominal", "sort": ["Before", "After"]}, "y": {"field": "upper", "type": "quantitative"}, "text": {"field": "sig"}}}
          ]
        },
        {"width": 10, "height": 28, "data": {"values": [{}]}, "mark": {"type": "point", "opacity": 0}, "encoding": {}},
        {
          "width": 83, "height": 95,
          "title": {"text": "DAT-Cre", "color": "#111111", "fontSize": 11.5, "fontWeight": "bold", "anchor": "end", "offset": -14, "dx": 2},
          "layer": [
            {"data": {"values": [{}]}, "mark": {"type": "rule", "color": "#8c8c8c", "strokeWidth": 1},
             "encoding": {"y": {"datum": 0, "type": "quantitative"}}},
            {"data": {"values": [{"grp": "hM3", "dv": 23.9, "lim": 34.2}, {"grp": "hM4", "dv": -6.0, "lim": -7.7}]},
             "mark": {"type": "bar", "strokeWidth": 0.5},
             "encoding": {"x": {"field": "grp", "type": "nominal", "sort": ["hM3", "hM4"], "scale": {"paddingInner": 0.44, "paddingOuter": 0.23, "align": 0.58},
                                "axis": {"title": null, "domain": false, "labelPadding": 23, "labelColor": {"condition": {"test": "datum.value === 'hM3'", "value": "#e3131b"}, "value": "#1f76c8"}}},
                          "y": {"field": "dv", "type": "quantitative", "scale": {"domain": [-10, 40], "nice": false}, "axis": {"title": null, "values": [-10, 0, 10, 20, 30, 40], "tickCount": 12, "format": "d"}},
                          "fill": {"condition": {"test": "datum.grp === 'hM3'", "value": "#e50d0d"}, "value": "#1467c2"},
                          "stroke": {"condition": {"test": "datum.grp === 'hM3'", "value": "#cc0000"}, "value": "#1060b5"}}},
            {"data": {"values": [{"grp": "hM3", "dv": 23.9, "lim": 34.2}, {"grp": "hM4", "dv": -6.0, "lim": -7.7}]},
             "mark": {"type": "rule", "color": "#a0a0a0", "strokeWidth": 1},
             "encoding": {"x": {"field": "grp", "type": "nominal", "sort": ["hM3", "hM4"]}, "y": {"field": "dv", "type": "quantitative"}, "y2": {"field": "lim"}}}
          ]
        }
      ],
      "spacing": 0,
      "bounds": "flush"
    }
  ],
  "spacing": 0
}
